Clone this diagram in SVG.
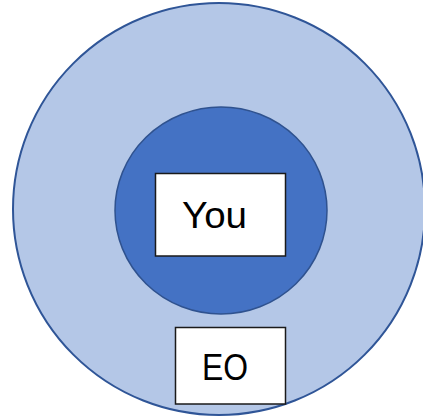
<svg xmlns="http://www.w3.org/2000/svg" width="423" height="419" viewBox="0 0 423 419">
<style>
.box{fill:#ffffff;stroke:#1a1a1a;stroke-width:1.5}
.lbl{font-family:"Liberation Sans",Arial,sans-serif;font-size:36px;fill:#000000}
</style>
<rect width="423" height="419" fill="#ffffff"/>
<g id="outer">
<ellipse cx="219" cy="209" rx="206" ry="206" fill="#B4C7E7" stroke="#2F5597" stroke-width="2"/>
</g>
<g id="inner">
<ellipse cx="221" cy="210.5" rx="106" ry="103.5" fill="#4472C4" stroke="#2F528F" stroke-width="1.5"/>
</g>
<g id="connectors"></g>
<g id="you">
<rect class="box" x="155.5" y="173.5" width="130" height="82.5"/>
<text class="lbl" x="182" y="228" textLength="65" lengthAdjust="spacingAndGlyphs">You</text>
</g>
<g id="eo">
<rect class="box" x="175.5" y="327.5" width="110" height="76.5"/>
<text class="lbl" x="202" y="380" textLength="46" lengthAdjust="spacingAndGlyphs">EO</text>
</g>
</svg>
